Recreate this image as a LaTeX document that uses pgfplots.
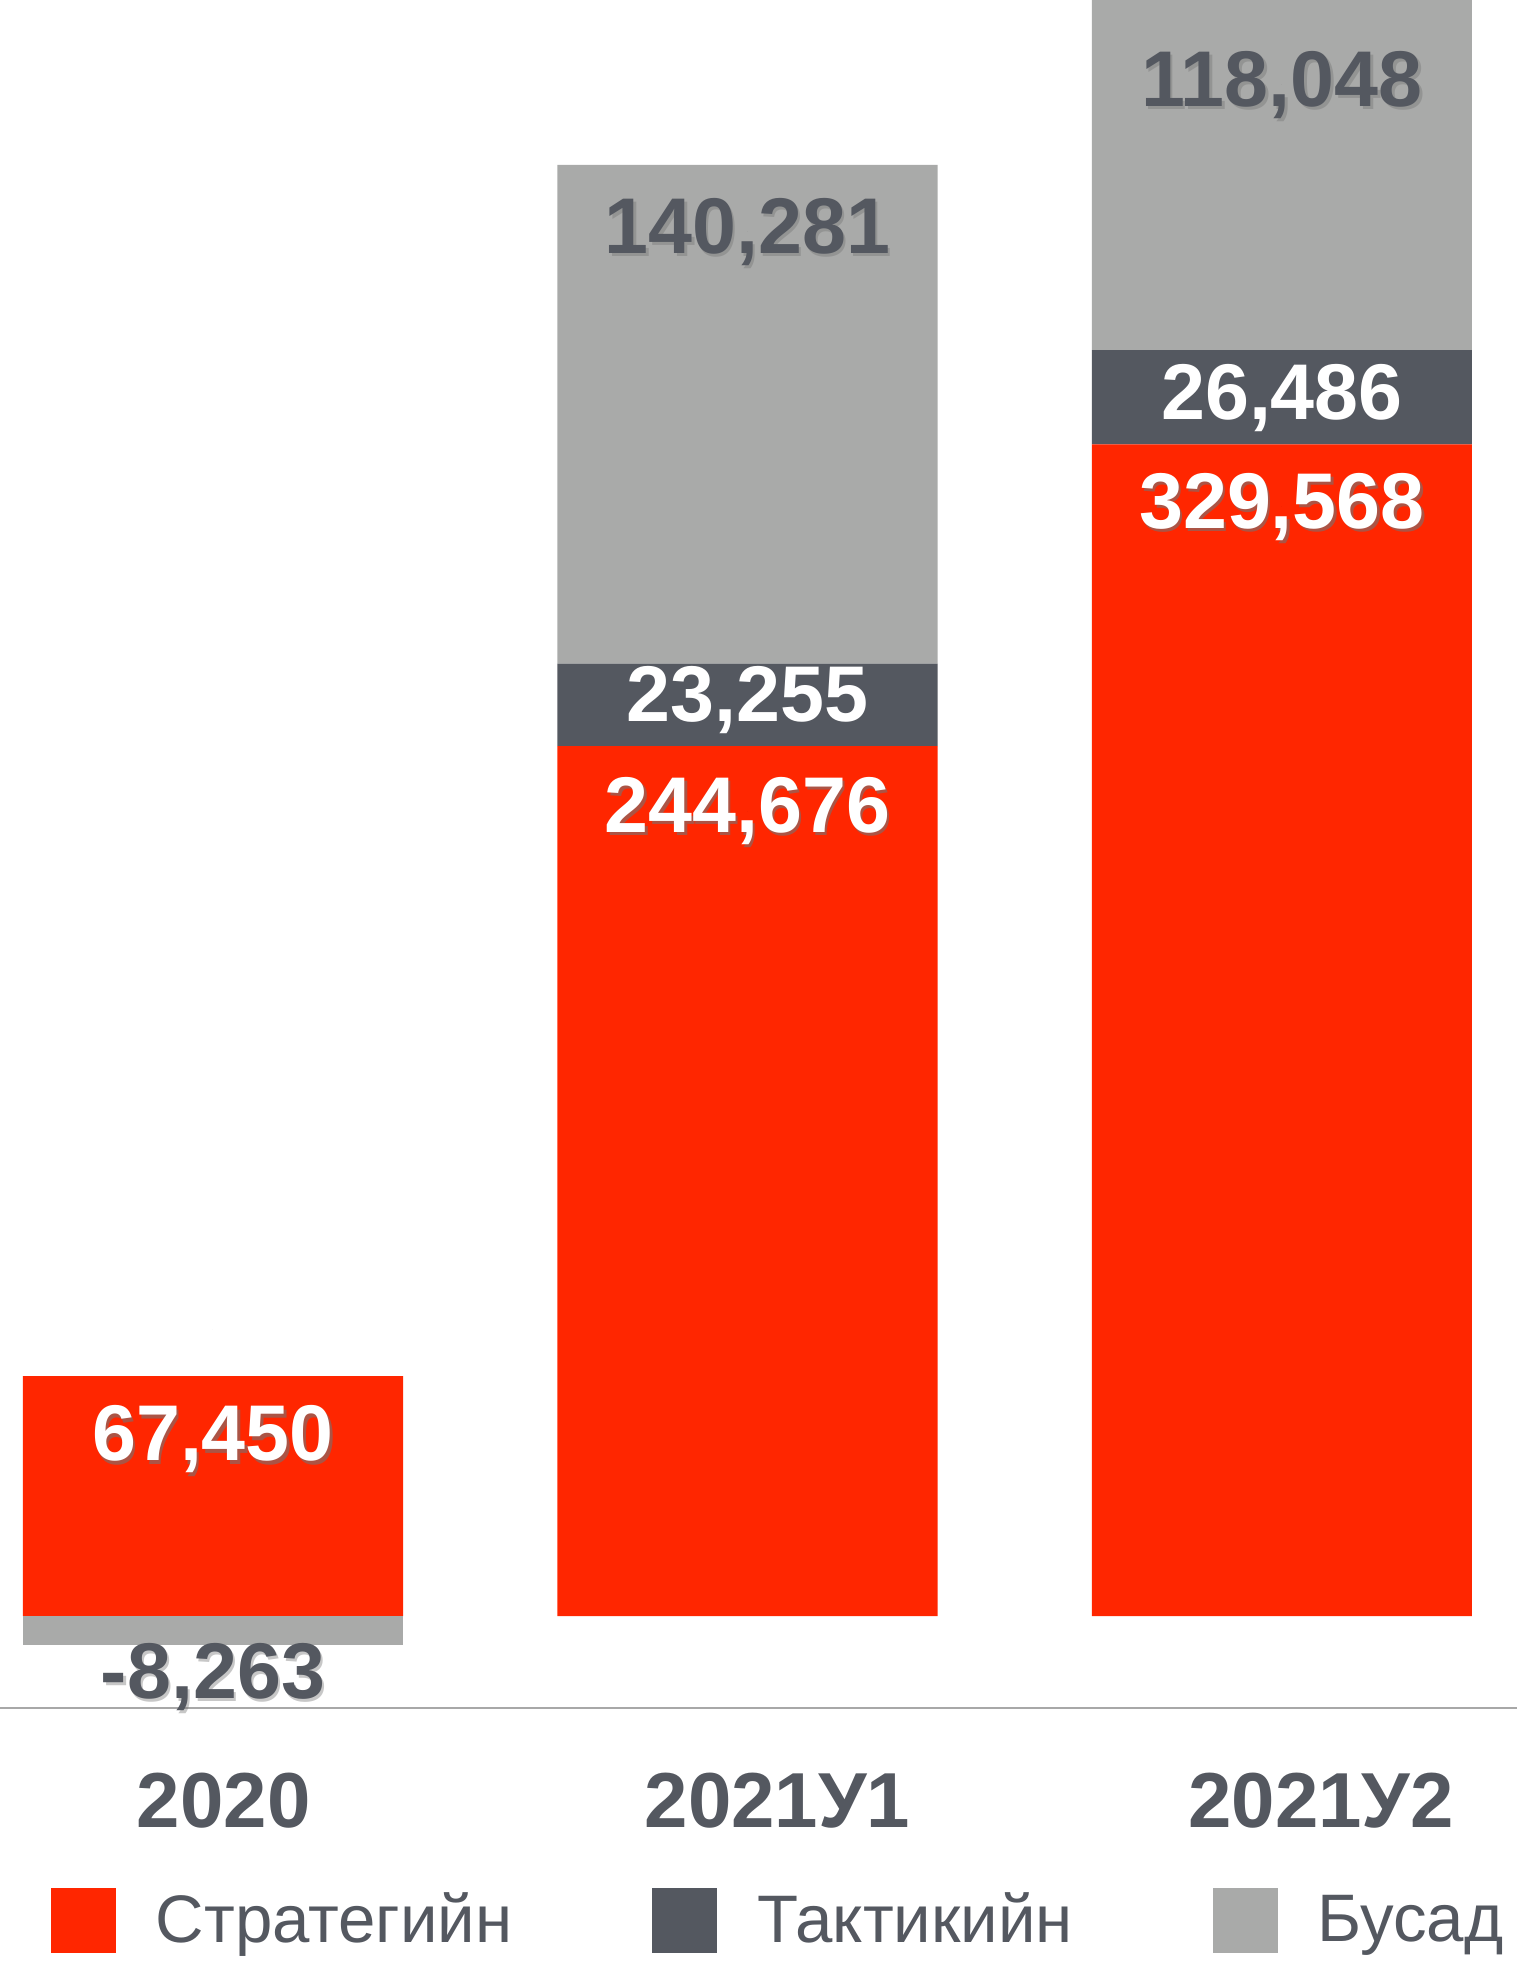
\documentclass[border=0pt]{standalone}
\usepackage{pgfplots}
\usepackage{pgfplotstable}
\pgfplotsset{compat=1.18}
\usepackage{fontspec}
\setmainfont{Liberation Sans}

\definecolor{strat}{HTML}{FF2600}
\definecolor{takt}{HTML}{545860}
\definecolor{busad}{HTML}{A9AAA9}
\definecolor{axisgray}{HTML}{A8A8A8}

\newcommand\lblfont{\bfseries\fontsize{19.75pt}{22pt}\selectfont}
\newcommand\tickfont{\bfseries\fontsize{19.5pt}{22pt}\selectfont}
\newcommand\legfont{\fontsize{16.8pt}{20pt}\selectfont}

% label positions (value axis units)
\pgfplotstableread{
x y lab
0 49650 67,450
1 226440 244,676
2 311960 329,568
}\whiteshad
\pgfplotstableread{
x y lab
0 80730 50
1 257750 23,255
2 342600 26,486
}\whiteplain
\pgfplotstableread{
x y lab
0 -17160 -8,263
1 389420 140,281
2 430660 118,048
}\darklbl

\pgfplotsset{
  common/.style={
    width=379.25pt, height=427pt, scale only axis,
    xmin=-0.3985, xmax=2.4397,
    ymin=-25879, ymax=454571,
  },
  lbl/.style={
    only marks, mark=*, mark size=0pt, mark options={draw=none,fill=none},
    nodes near coords, point meta=explicit symbolic,
    every node near coord/.style={anchor=center, font=\lblfont, text=#1},
  },
}

\begin{document}
\begin{tikzpicture}
\begin{axis}[
  common,
  ybar stacked,
  bar width=0.711,
  axis y line=none,
  axis x line*=bottom,
  x axis line style={axisgray, line width=0.4pt, -},
  xtick={0.02,1.056,2.073},
  xticklabels={2020,2021У1,2021У2},
  major tick length=0pt,
  xticklabel style={font=\tickfont, text=takt, anchor=base, yshift=-29.75pt},
  legend image code/.code={\fill[#1] (0pt,-8.125pt) rectangle (16.25pt,8.125pt);},
  legend columns=3,
  legend cell align=left,
  legend style={at={(axis description cs:0.03296,-0.1247)}, anchor=west,
    draw=none, fill=none, inner sep=0pt, font=\legfont, text=takt,
    nodes={inner sep=0pt},
    /tikz/every odd column/.append style={column sep=10pt},
    /tikz/every even column/.append style={column sep=35pt}},
]
\addplot[fill=strat, draw=none] coordinates {(0,67450) (1,244676) (2,329568)};
\addlegendentry{Стратегийн}
\addplot[fill=takt, draw=none] coordinates {(0,50) (1,23255) (2,26486)};
\addlegendentry{Тактикийн}
\addplot[fill=busad, draw=none] coordinates {(0,0) (1,140281) (2,118048)};
\addlegendentry{Бусад}
\end{axis}

\begin{axis}[common, hide axis, clip=false]
\addplot[ybar, bar width=0.711, bar shift=0pt, fill=busad, draw=none] coordinates {(0,-8263)};
% soft shadows
\addplot[lbl=black!55, every node near coord/.append style={xshift=0.6pt, yshift=-0.8pt, opacity=0.6}] table[meta=lab] {\whiteshad};
\addplot[lbl=black!55, every node near coord/.append style={xshift=0.6pt, yshift=-0.8pt, opacity=0.4}] table[meta=lab] {\darklbl};
% labels
\addplot[lbl=white] table[meta=lab] {\whiteshad};
\addplot[lbl=white] table[meta=lab] {\whiteplain};
\addplot[lbl=takt] table[meta=lab] {\darklbl};
\end{axis}
\pgfresetboundingbox
\useasboundingbox (0,-63.5pt) rectangle (379.25pt,427pt);
\end{tikzpicture}
\end{document}
